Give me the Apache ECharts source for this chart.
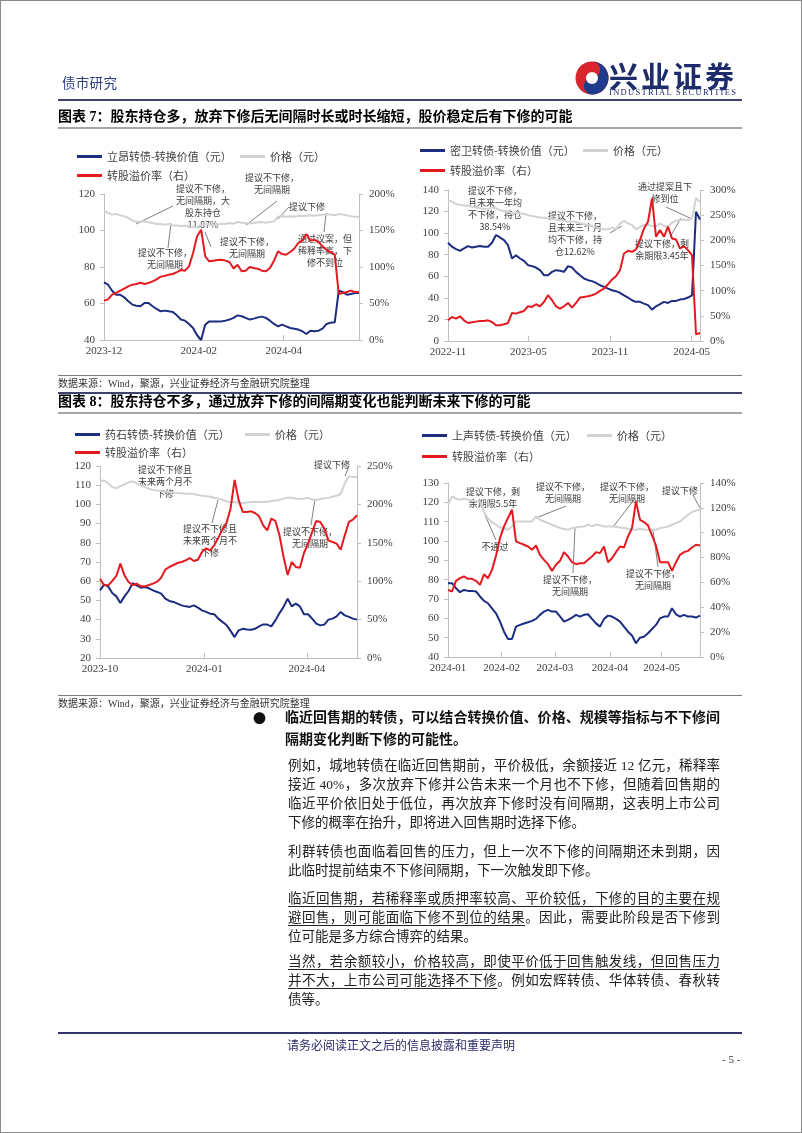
<!DOCTYPE html>
<html>
<head>
<meta charset="utf-8">
<script src="https://cdn.jsdelivr.net/npm/echarts@6/dist/echarts.min.js"></script>
<style>
  body { margin: 0; background: #fff; }
  #frame { position: absolute; left: 0; top: 0; width: 800px; height: 1131px; border: 1px solid #8a8a8a; }
  #chart { position: absolute; left: 0; top: 0; width: 802px; height: 1133px; }
  .t { position: absolute; white-space: nowrap; font-family: "Liberation Serif", "Noto Sans CJK SC"; color: #222; }
  .rule { position: absolute; }
  .ln { position: absolute; left: 288px; width: 432px; font-size: 13.5px; line-height: 18px; text-align: justify; text-align-last: justify;
        font-family: "Liberation Serif", "Noto Sans CJK SC"; color: #222; white-space: nowrap; }
  .ln.last { text-align-last: left; }
  .ln.b { left: 285px; width: 435px; font-size: 14px; font-weight: bold; color: #111; }
  u { text-decoration-thickness: 1px; text-underline-offset: 3px; }
</style>
</head>
<body>
<div id="chart"></div>
<div id="frame"></div>

<!-- header -->
<div class="t" style="left:62px;top:76px;font-size:13.5px;line-height:16px;color:#2b3f7f;letter-spacing:0.3px;">债市研究</div>
<svg style="position:absolute;left:575px;top:59px" width="34" height="38" viewBox="0 0 34 38">
  <circle cx="17" cy="19" r="16.5" fill="#d9262e"/>
  <path d="M17 2.5 A16.5 16.5 0 0 1 17 35.5 A8.25 8.25 0 0 1 17 19 A8.25 8.25 0 0 0 17 2.5 Z" fill="#1f3b8c"/>
  <circle cx="17" cy="19" r="6" fill="#fff"/>
</svg>
<div class="t" style="left:609px;top:58px;font-size:29px;line-height:34px;font-weight:bold;color:#1d2c6b;letter-spacing:3px;font-family:'Noto Sans CJK SC';">兴业证券</div>
<div class="t" style="left:609px;top:87px;font-size:8.5px;line-height:10px;color:#1d2c6b;letter-spacing:1.3px;">INDUSTRIAL SECURITIES</div>
<div class="rule" style="left:58px;top:99px;width:684px;height:2px;background:#41416e;"></div>

<!-- figure 7 -->
<div class="t" style="left:58px;top:108px;font-size:14px;line-height:18px;font-weight:bold;color:#000;">图表 7：股东持仓多，放弃下修后无间隔时长或时长缩短，股价稳定后有下修的可能</div>
<div class="rule" style="left:58px;top:127px;width:684px;height:2px;background:#a6a6a6;"></div>
<div class="rule" style="left:58px;top:375px;width:684px;height:1px;background:#7f7f7f;"></div>
<div class="t" style="left:58px;top:378px;font-size:10px;line-height:12px;color:#333;">数据来源：Wind，聚源，兴业证券经济与金融研究院整理</div>

<!-- figure 8 -->
<div class="rule" style="left:58px;top:392px;width:684px;height:2px;background:#41416e;"></div>
<div class="t" style="left:58px;top:393px;font-size:14px;line-height:18px;font-weight:bold;color:#000;">图表 8：股东持仓不多，通过放弃下修的间隔期变化也能判断未来下修的可能</div>
<div class="rule" style="left:58px;top:412px;width:684px;height:2px;background:#a6a6a6;"></div>
<div class="rule" style="left:58px;top:695px;width:684px;height:1px;background:#7f7f7f;"></div>
<div class="t" style="left:58px;top:698px;font-size:10px;line-height:12px;color:#333;">数据来源：Wind，聚源，兴业证券经济与金融研究院整理</div>

<!-- body text -->
<div class="t" style="left:253px;top:709px;font-size:13px;line-height:18px;color:#111;font-family:'Noto Sans CJK SC';">●</div>
<div class="ln b" style="top:709px;">临近回售期的转债，可以结合转换价值、价格、规模等指标与不下修间</div>
<div class="ln b last" style="top:731px;">隔期变化判断下修的可能性。</div>

<div class="ln" style="top:757px;">例如，城地转债在临近回售期前，平价极低，余额接近 12 亿元，稀释率</div>
<div class="ln" style="top:776px;">接近 40%，多次放弃下修并公告未来一个月也不下修，但随着回售期的</div>
<div class="ln" style="top:795px;">临近平价依旧处于低位，再次放弃下修时没有间隔期，这表明上市公司</div>
<div class="ln last" style="top:814px;">下修的概率在抬升，即将进入回售期时选择下修。</div>

<div class="ln" style="top:843px;">利群转债也面临着回售的压力，但上一次不下修的间隔期还未到期，因</div>
<div class="ln last" style="top:862px;">此临时提前结束不下修间隔期，下一次触发即下修。</div>

<div class="ln" style="top:890px;"><u>临近回售期，若稀释率或质押率较高、平价较低，下修的目的主要在规</u></div>
<div class="ln" style="top:909px;"><u>避回售，则可能面临下修不到位的结果</u>。因此，需要此阶段是否下修到</div>
<div class="ln last" style="top:928px;">位可能是多方综合博弈的结果。</div>

<div class="ln" style="top:953px;"><u>当然，若余额较小，价格较高，即使平价低于回售触发线，但回售压力</u></div>
<div class="ln" style="top:972px;"><u>并不大，上市公司可能选择不下修</u>。例如宏辉转债、华体转债、春秋转</div>
<div class="ln last" style="top:991px;">债等。</div>

<!-- footer -->
<div class="rule" style="left:58px;top:1032px;width:684px;height:2px;background:#34346a;"></div>
<div class="t" style="left:0;width:802px;text-align:center;top:1037px;font-size:12px;line-height:15px;color:#2b2b6b;font-family:'Noto Sans CJK SC';">请务必阅读正文之后的信息披露和重要声明</div>
<div class="t" style="left:722px;top:1052px;font-size:11px;line-height:14px;color:#333;">- 5 -</div>

<script>
// ---------- data (sampled evenly along each time axis) ----------
// 图表7 左：立昂转债
const valueA = [71.6,70.3,67,64.8,64.8,63.4,61.2,59.4,58.8,58.5,60.3,60.3,58.5,57,55.7,56.1,55.7,55.4,53.5,51.2,50.6,48.8,46.6,42.6,40,48.4,50.2,50.2,50.2,50.2,50.6,51.2,52.1,53.5,53,52.1,51.2,51.7,52.4,52.8,52.1,50.6,48.8,47.5,48.4,47.5,46.6,46.2,45.7,44.8,43.3,45.1,44.8,45.1,46.2,48.8,49.5,49.7,67,66.3,64.8,65.2,65.8,65.8];
const priceA = [110.9,109.6,108.7,109,108.3,107.8,106.9,105.4,104.7,105,105,104.5,104.1,103.6,103.6,103.2,103.6,102.8,102.8,102.3,102.7,102.1,101.9,101.7,103.2,103.6,103.2,102.8,103.2,103.7,103.6,104.1,103.7,104.7,104.3,104.1,103.9,104.1,104.5,104.7,104.3,104.7,105,107.6,107.8,107.6,107.8,107.6,107.9,107.9,108.1,108.3,108.1,108.3,108.7,109,108.7,108.3,109,108.7,108.3,107.8,107.6,107.6];
const premA = [53.9,55.7,62.1,64.4,67.6,70.3,73.5,75.8,76.7,78.5,76.7,78.1,80.4,83.1,86.8,87.7,89.5,90.4,93.1,95.9,95,100.9,119.1,142,151.1,114.6,107.8,108.7,109.6,110,108.7,106.8,98,103.2,94.1,95,100,98.6,97.7,95,94.1,98.6,108.7,121.5,117.8,116.9,120.5,125.1,132.9,136.1,145.2,136.1,137.4,134.2,128.3,123.3,120.5,116.9,63,64.4,65.8,67.6,65.8,65.8];
const tickPosA = [0, 23.4, 44.4];
const tickLabA = ['2023-12', '2024-02', '2024-04'];

// 图表7 右：密卫转债
const valueB = [91.1,87.4,85.2,83.6,85.8,88,86.7,87.4,88,87.4,87.4,91.1,98.2,96,93.5,88.9,76.5,79.6,76.5,74.3,70.3,69.4,68.1,65.7,61,61,64.1,65.7,65.1,64.1,69.4,68.1,64.1,61,57.9,56.4,55.5,53.9,51.7,50.2,48.6,47.1,46.2,44.6,42.4,40.3,37.8,36.3,36.3,34.7,33.2,29.1,32.2,34.1,36.3,35.3,37.2,37.2,38.4,39,40.3,42.4,119.9,112.7];
const priceB = [130.7,129.2,127,126.1,125.8,125.1,124.5,123.9,123,122.7,122,123.9,123,121.4,120.5,119.9,118.3,118.9,118.3,117.7,116.8,115.8,115.2,114.6,114.3,113.7,113.1,112.7,112.1,111.5,110.6,110.9,110.3,109,108.4,107.5,106.6,105.3,104.4,103.5,103.5,105.3,103.5,109,111.5,109,107.5,103.5,105.9,107.5,107.5,106.6,105.9,109,106.6,105.9,109.6,111.5,112.1,112.7,112.1,113.7,132.3,129.2];
const premB = [41.1,47.8,44.5,49.1,41.1,35.8,37.2,38.5,39.8,39.8,41.1,37.8,31.2,31.2,33.2,35.8,55.8,54.4,57.1,59.7,69,67.7,73,69,77.7,90.9,81,69,64.4,69,75.7,66.4,75.7,86.3,87.6,88.9,90.9,94.2,99.6,104.2,112.8,122.1,128.8,140.7,173.9,179.2,177.2,181.9,200.4,223.7,236.9,283.4,207.1,220.3,207.1,227,203.8,201.8,183.8,188.5,180.5,170.6,13.3,15.9];
const tickPosB = [0, 20.1, 40.5, 60.9];
const tickLabB = ['2022-11', '2023-05', '2023-11', '2024-05'];

// 图表8 左：药石转债
const valueC = [55.2,58.2,57.3,53.9,52.1,48.6,52.1,54.9,59,57.8,56.6,57,56.3,55.2,54.4,53.5,50.9,49.7,49.2,48.3,47.4,46.9,46.6,47.4,46.2,44.8,44,43.1,42.8,40.5,38.8,37.2,34.1,30.9,34.4,35.2,34.9,34.7,35.2,36.5,37.5,37.4,36.5,39.6,43.4,46.6,50.9,46.9,48.3,46.9,42.8,42.8,40.5,37.9,37,37.4,40,40.5,41.7,44,42.2,41.4,40.5,40];
const priceC = [112.2,112.5,111,109,108.4,109.5,110.5,111.5,112,111,109.8,109,108.2,107.5,107.2,107,106.6,106.5,106.2,106,105.8,105.6,105.6,105.4,104.9,104.5,104.3,104,103.5,103,102.5,101.5,101.3,101.2,100.8,100.7,101,101.3,101.2,101.3,101.4,101.3,101.8,102,102.3,103,103.6,103.5,103,102.9,103,103.4,102.5,102.3,102.8,103.2,103.4,104,104.5,105.4,111,114.6,114.3,114.3];
const premC = [103.3,94.6,94.6,100.3,106.8,122.8,107.6,99,94.6,96.8,93.3,93.3,95,96.8,99.4,104.6,115,118.5,121.1,123.7,125,127.2,130.2,126.3,128,138,142.8,140.2,146.7,156.7,167.1,175.8,194.4,232,205.3,190.1,190.1,191,188.8,184.5,172.7,166.2,181.4,178.4,159.7,131.5,108,125,118.5,117.6,136.7,148.9,164,178.4,177.1,168.4,153.2,151,148.9,141,159.7,177.1,180.1,185.8];
const tickPosC = [0, 25.6, 50.7];
const tickLabC = ['2023-10', '2024-01', '2024-04'];

// 图表8 右：上声转债
const valueD = [78.2,78.2,75.6,73.5,74.7,74.2,74.2,73.9,71.3,69,67.8,65.2,62.6,58.3,53.1,49.3,49.3,55.7,56.6,57.3,58,58.7,59.7,61.8,63.5,64.4,63.5,63.5,61,58.3,59.2,60.4,61.8,60.9,61.8,62.1,59.7,57.4,55.7,59.7,61.4,60.9,59.7,58.3,55.7,53.1,51.1,47.1,50,50.5,52.3,54.5,56.6,60,60.9,60.9,65.2,62.1,60.9,61.8,60.9,60.9,60.4,61.4];
const priceD = [118.8,123.1,121.9,121.4,121.9,121.4,120.8,120.5,120.5,115,111.5,109.8,108.4,107,106.3,105.8,107.5,110.1,110.1,110.1,110.1,110.1,112.7,111,110.1,109.3,108.4,107.5,106.7,106.2,105.8,106.7,107,107.4,107.5,108.4,107.7,108.4,108.1,107.5,107.5,107.5,107.4,107,106.7,106.3,105.8,105.8,106.3,106,105.8,105.8,105.8,106.7,107,107.5,108.4,109.3,110.1,111.9,113.6,115,115.7,116.2];
const premD = [54,52.7,61.3,63.4,64.8,62.9,62.9,61.3,58,66.6,63.4,70.1,81.4,95.7,105.1,111.8,118.5,93,91.6,90.3,88.9,86.3,89.7,82.2,78.2,74.7,69.3,74.2,77.4,84.4,80.9,76.3,74.7,75.5,75.5,78.2,80.9,84.4,83.6,88.9,76.3,79.5,84.4,88.9,88.1,97,103.7,125.2,110.4,108.6,105.9,97.8,89.7,76.3,76.3,76.3,69.3,76.3,82.2,84.4,85.4,88.1,90.3,89.7];
const tickPosD = [0, 13.4, 26.7, 40.5, 53.4];
const tickLabD = ['2024-01', '2024-02', '2024-03', '2024-04', '2024-05'];

// ---------- styling ----------
const BLUE = '#1c2c80', RED = '#e31b20', GRAY = '#d2d2d2';
const SERIF = "'Liberation Serif', 'Noto Sans CJK SC'";
const CJK = "'Noto Sans CJK SC'";
const AXIS_C = '#bfbfbf';

const panels = [
  { grid: { left: 104, top: 194, width: 255, height: 146 }, left: [40, 120, 20], right: [0, 200, 50],
    value: valueA, price: priceA, prem: premA, tickPos: tickPosA, tickLab: tickLabA, name: '立昂转债-转换价值（元）',
    leg: { x1: 77, x2: 240, y1: 159, y2: 178 } },
  { grid: { left: 448, top: 190, width: 252, height: 151 }, left: [0, 140, 20], right: [0, 300, 50],
    value: valueB, price: priceB, prem: premB, tickPos: tickPosB, tickLab: tickLabB, name: '密卫转债-转换价值（元）',
    leg: { x1: 420, x2: 583, y1: 153, y2: 173 } },
  { grid: { left: 100, top: 466, width: 257, height: 192 }, left: [20, 120, 10], right: [0, 250, 50],
    value: valueC, price: priceC, prem: premC, tickPos: tickPosC, tickLab: tickLabC, name: '药石转债-转换价值（元）',
    leg: { x1: 75, x2: 245, y1: 437, y2: 455 } },
  { grid: { left: 448, top: 483, width: 252, height: 174 }, left: [40, 130, 10], right: [0, 140, 20],
    value: valueD, price: priceD, prem: premD, tickPos: tickPosD, tickLab: tickLabD, name: '上声转债-转换价值（元）',
    leg: { x1: 422, x2: 587, y1: 438, y2: 459 } }
];

// annotation text (page pixels) and leader lines
const notes = [
  // 图表7 左
  { t: '提议不下修，\n无间隔期，大\n股东持仓\n11.87%', x: 203, y: 207, l: [136, 224, 173, 206] },
  { t: '提议不下修，\n无间隔期', x: 165, y: 259, l: [171, 223, 168, 248] },
  { t: '提议不下修，\n无间隔期', x: 272, y: 184, l: [246, 225, 277, 201] },
  { t: '提议下修', x: 307, y: 207, l: [278, 219, 289, 207] },
  { t: '提议不下修，\n无间隔期', x: 247, y: 247.5, l: [205, 232, 211, 247] },
  { t: '通过议案，但\n稀释率高，下\n修不到位', x: 325, y: 251, l: [326, 214, 324, 232] },
  // 图表7 右
  { t: '提议不下修，\n且未来一年均\n不下修，持仓\n38.54%', x: 495, y: 209 },
  { t: '提议不下修，\n且未来三个月\n均不下修，持\n仓12.62%', x: 575, y: 234, l: [610, 233, 622, 226] },
  { t: '通过提案且下\n修到位', x: 665, y: 192.5, l: [666, 207, 692, 219] },
  { t: '提议下修，剩\n余期限3.45年', x: 662, y: 250, l: [670, 237, 681, 218] },
  // 图表8 左
  { t: '提议不下修且\n未来两个月不\n下修', x: 165, y: 482 },
  { t: '提议不下修且\n未来两个月不\n下修', x: 210, y: 540.5, l: [218, 500, 212, 523] },
  { t: '提议下修', x: 332, y: 465, l: [349, 466, 345, 476] },
  { t: '提议不下修，\n无间隔期', x: 310, y: 538, l: [315, 499, 311, 525] },
  // 图表8 右
  { t: '提议下修，剩\n余期限5.5年', x: 493, y: 498 },
  { t: '不通过', x: 495, y: 547, l: [485, 515, 496, 540] },
  { t: '提议不下修，\n无间隔期', x: 563, y: 492.5, l: [536, 518, 566, 506] },
  { t: '提议不下修，\n无间隔期', x: 627, y: 492.5, l: [613, 527, 633, 501] },
  { t: '提议下修', x: 680, y: 491, l: [693, 495, 700, 508] },
  { t: '提议不下修，\n无间隔期', x: 570, y: 586, l: [575, 527, 573, 573] },
  { t: '提议不下修，\n无间隔期', x: 653, y: 580, l: [653, 530, 658, 567] }
];

const grids = [], xAxes = [], yAxes = [], series = [], legends = [], graphics = [];

function legendItem(name, left, y) {
  return {
    left: left, top: y - 8, padding: 0, data: [name], icon: 'rect', itemWidth: 25, itemHeight: 3,
    selectedMode: false, textStyle: { fontSize: 11, color: '#404040', fontFamily: CJK }
  };
}

function line(name, data, xi, yi, color, z) {
  return {
    type: 'line', name: name, xAxisIndex: xi, yAxisIndex: yi, z: z,
    data: data.map((v, i) => [i, v]), showSymbol: false, symbol: 'none',
    lineStyle: { color: color, width: 2 }, itemStyle: { color: color }
  };
}

panels.forEach((p, k) => {
  grids.push(p.grid);
  xAxes.push({
    type: 'value', gridIndex: k, min: 0, max: p.value.length - 1,
    axisLine: { show: true, lineStyle: { color: AXIS_C } },
    axisTick: { show: true, inside: true, length: 5, customValues: p.tickPos, lineStyle: { color: AXIS_C } },
    axisLabel: {
      customValues: p.tickPos, margin: 6, fontSize: 11, fontFamily: SERIF, color: '#404040',
      formatter: v => { const j = p.tickPos.findIndex(q => Math.abs(q - v) < 1e-6); return j < 0 ? '' : p.tickLab[j]; }
    },
    splitLine: { show: false }
  });
  yAxes.push({
    type: 'value', gridIndex: k, position: 'left', min: p.left[0], max: p.left[1], interval: p.left[2],
    axisLine: { show: true, lineStyle: { color: AXIS_C } },
    axisTick: { show: true, length: 4, lineStyle: { color: AXIS_C } },
    axisLabel: { margin: 9, fontSize: 11, fontFamily: SERIF, color: '#404040' },
    splitLine: { show: false }
  });
  yAxes.push({
    type: 'value', gridIndex: k, position: 'right', min: p.right[0], max: p.right[1], interval: p.right[2],
    axisLine: { show: true, lineStyle: { color: AXIS_C } },
    axisTick: { show: true, length: 4, lineStyle: { color: AXIS_C } },
    axisLabel: { margin: 10, fontSize: 11, fontFamily: SERIF, color: '#404040', formatter: '{value}%' },
    splitLine: { show: false }
  });
  series.push(line('价格（元）', p.price, k, 2 * k, GRAY, 2));
  series.push(line(p.name, p.value, k, 2 * k, BLUE, 3));
  series.push(line('转股溢价率（右）', p.prem, k, 2 * k + 1, RED, 4));
  legends.push(legendItem(p.name, p.leg.x1, p.leg.y1));
  legends.push(legendItem('价格（元）', p.leg.x2, p.leg.y1));
  legends.push(legendItem('转股溢价率（右）', p.leg.x1, p.leg.y2));
});

notes.forEach(n => {
  if (n.l) {
    graphics.push({ type: 'line', z: 1, silent: true,
      shape: { x1: n.l[0], y1: n.l[1], x2: n.l[2], y2: n.l[3] },
      style: { stroke: '#808080', lineWidth: 1 } });
  }
  graphics.push({ type: 'text', z: 1, silent: true, x: n.x, y: n.y,
    style: { text: n.t, fill: '#3a3a3a', font: "9px 'Noto Sans CJK SC'", lineHeight: 12,
      align: 'center', verticalAlign: 'middle' } });
});

const chart = echarts.init(document.getElementById('chart'), null, { renderer: 'canvas' });
chart.setOption({
  animation: false,
  backgroundColor: '#fff',
  grid: grids,
  xAxis: xAxes,
  yAxis: yAxes,
  legend: legends,
  series: series,
  graphic: graphics
});
</script>
</body>
</html>
